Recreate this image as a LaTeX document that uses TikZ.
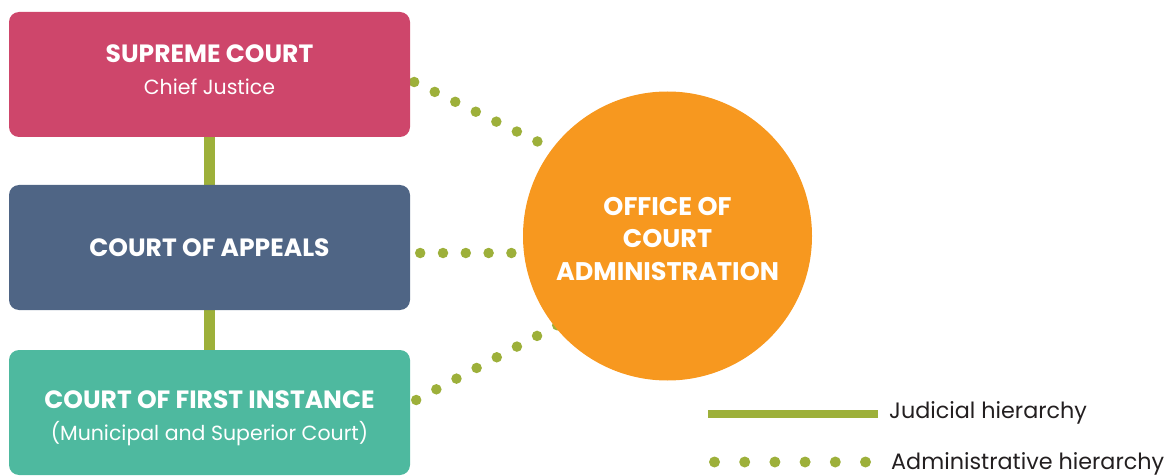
\documentclass[tikz,border=0pt]{standalone}
\usepackage{fontspec}
\setmainfont{Poppins}
\usetikzlibrary{backgrounds}
\definecolor{supreme}{HTML}{CE466B}
\definecolor{appeals}{HTML}{4F6585}
\definecolor{firstinst}{HTML}{4EB99F}
\definecolor{office}{HTML}{F7981F}
\definecolor{olivegreen}{HTML}{9DB03A}
\definecolor{legendtext}{HTML}{231F20}
\newcommand{\ttlfont}{\bfseries\fontsize{25}{32}\selectfont}
\begin{document}
\begin{tikzpicture}[x=1pt,y=-1pt,
  court/.style={rounded corners=10pt, minimum width=401pt, minimum height=125pt,
    text=white, align=center, inner sep=0pt, font=\fontsize{20.5}{32}\selectfont},
  officebox/.style={circle, fill=office, minimum size=289pt, inner sep=0pt,
    text=white, align=center, font=\bfseries\fontsize{25.5}{32.5}\selectfont},
  judicial/.style={draw=olivegreen, line width=11pt},
  admin/.style={draw=olivegreen, line width=10.5pt, line cap=round, dash pattern=on 0pt off 22.8pt},
  judlegend/.style={draw=olivegreen, line width=8pt},
  adminlegend/.style={draw=olivegreen, line width=11pt, line cap=round, dash pattern=on 0pt off 30.2pt},
  legendlabel/.style={anchor=base west, inner sep=0pt, text=legendtext, font=\fontsize{22.3}{26}\selectfont}
]
\useasboundingbox (0,0) rectangle (1171,476);
\node[court, fill=supreme] (sc) at (209.5,74.5)
  {{\ttlfont SUPREME COURT}\\Chief Justice\rule[-9pt]{0pt}{9pt}};
\node[court, fill=appeals] (ca) at (209.5,247.5)
  {\ttlfont COURT OF APPEALS};
\node[court, fill=firstinst] (fi) at (209.5,412.5)
  {{\ttlfont\rule{0pt}{28.5pt}COURT OF FIRST INSTANCE}\\(Municipal and Superior Court)};
\node[officebox] (oca) at (667.5,236) {\rule{0pt}{24pt}OFFICE OF\\COURT\\ADMINISTRATION};
\coordinate (t1) at (667,204);
\coordinate (t2) at (667,253);
\coordinate (t3) at (667,267);
\begin{scope}[on background layer]
  \draw[judicial] (sc.south) -- (ca.north);
  \draw[judicial] (ca.south) -- (fi.north);
  \draw[admin] ([shift={(4,7.5)}]sc.east) -- (t1);
  \draw[admin] ([shift={(10,5.5)}]ca.east) -- (t2);
  \draw[admin] ([shift={(6,-12.5)}]fi.east) -- (t3);
\end{scope}
\node[legendlabel] (jl) at (889,418.5) {Judicial hierarchy};
\node[legendlabel] (al) at (891,469.5) {Administrative hierarchy};
\coordinate (j1) at (708,414);
\coordinate (a1) at (714.5,462);
\draw[judlegend] (j1) -- ([xshift=-11pt]jl.base west |- j1);
\draw[adminlegend] (a1) -- ([xshift=-22pt]al.base west |- a1);
\end{tikzpicture}
\end{document}
